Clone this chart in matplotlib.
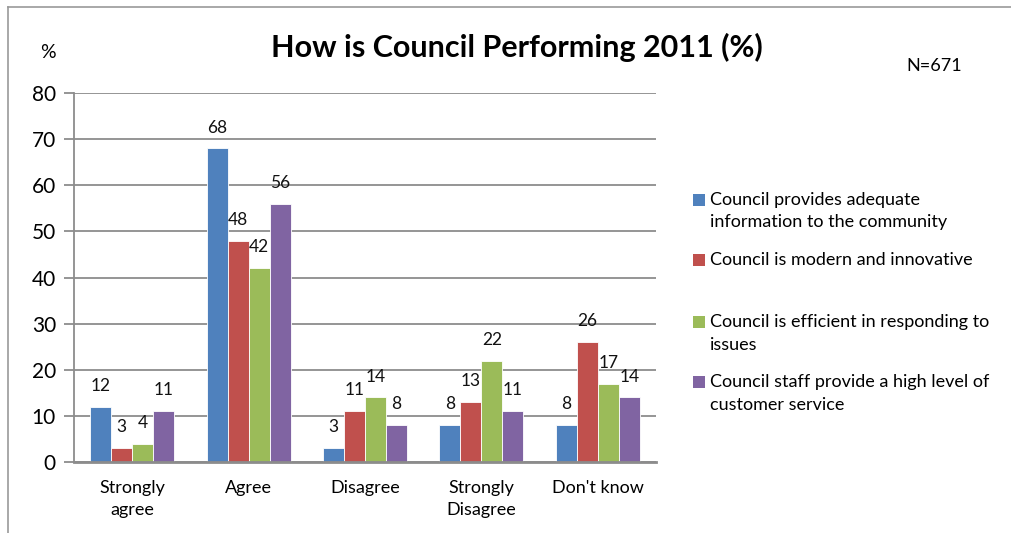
import numpy as np
import matplotlib
matplotlib.use("Agg")
import matplotlib.pyplot as plt
from matplotlib.patches import Rectangle
from matplotlib.lines import Line2D

categories = ["Strongly\nagree", "Agree", "Disagree", "Strongly\nDisagree", "Don't know"]
series_names = [
    "Council provides adequate\ninformation to the community",
    "Council is modern and innovative",
    "Council is efficient in responding to\nissues",
    "Council staff provide a high level of\ncustomer service",
]
info = [12, 68, 3, 8, 8]
modern = [3, 48, 11, 13, 26]
efficient = [4, 42, 14, 22, 17]
staff = [11, 56, 8, 11, 14]
yticks = [0, 10, 20, 30, 40, 50, 60, 70, 80]

colors = ["#4F81BD", "#C0504D", "#9BBB59", "#8064A2"]
grid_col = "#8c8c8c"
plt.rcParams["font.family"] = ["Lato", "DejaVu Sans"]

W, H = 1011, 533
fig = plt.figure(figsize=(W / 100, H / 100), dpi=100)
ax = fig.add_axes([74 / W, 1 - 462 / H, (656 - 74) / W, (462 - 93) / H])

x = np.arange(len(categories))
bw = 0.18
all_series = [info, modern, efficient, staff]
for i, (vals, c) in enumerate(zip(all_series, colors)):
    pos = x + (i - 1.5) * bw
    ax.bar(pos, vals, width=bw, color=c, edgecolor="white", linewidth=0.6, zorder=3)
    for px, v in zip(pos, vals):
        ax.annotate(str(v), (px, v), xytext=(0, 15), textcoords="offset points",
                    ha="center", va="center", fontsize=12.5, color="#111111")

ax.set_xlim(-0.5, len(categories) - 0.5)
ax.set_ylim(0, 80)
ax.set_yticks(yticks)
ax.set_yticklabels([str(t) for t in yticks], fontsize=15)
ax.set_xticks(x)
ax.set_xticklabels(categories, fontsize=13, linespacing=1.45)
ax.tick_params(axis="y", length=7, color=grid_col, width=1.3, pad=6)
ax.tick_params(axis="x", length=0, pad=13)
ax.grid(axis="y", color=grid_col, linewidth=1.3, zorder=0)
for s in ["top", "right"]:
    ax.spines[s].set_visible(False)
ax.spines["left"].set_color(grid_col)
ax.spines["left"].set_linewidth(1.3)
ax.spines["bottom"].set_color(grid_col)
ax.spines["bottom"].set_linewidth(2)
ax.spines["bottom"].set_zorder(4)

fig.text(517 / W, 1 - 47 / H, "How is Council Performing 2011 (%)", ha="center", va="center",
         fontsize=22, fontweight="bold")
fig.text(48 / W, 1 - 53 / H, "%", ha="center", va="center", fontsize=14)
fig.text(934 / W, 1 - 66 / H, "N=671", ha="center", va="center", fontsize=13)

# legend drawn by hand so each entry sits in its own slot
legend_y = [200, 260, 322, 382]
for name, c, ly in zip(series_names, colors, legend_y):
    fig.add_artist(Rectangle((693 / W, 1 - (ly + 6) / H), 12 / W, 12 / H,
                             transform=fig.transFigure, facecolor=c, edgecolor="none"))
    fig.text(710 / W, 1 - (ly - 8) / H, name, ha="left", va="top",
             fontsize=13, linespacing=1.5)

# outer frame
fig.add_artist(Line2D([8 / W, 1], [1 - 7 / H, 1 - 7 / H], transform=fig.transFigure,
                      color="#999999", linewidth=1.2))
fig.add_artist(Line2D([8 / W, 8 / W], [1 - 7 / H, 0], transform=fig.transFigure,
                      color="#999999", linewidth=1.2))

fig.savefig("out.png", dpi=100)
